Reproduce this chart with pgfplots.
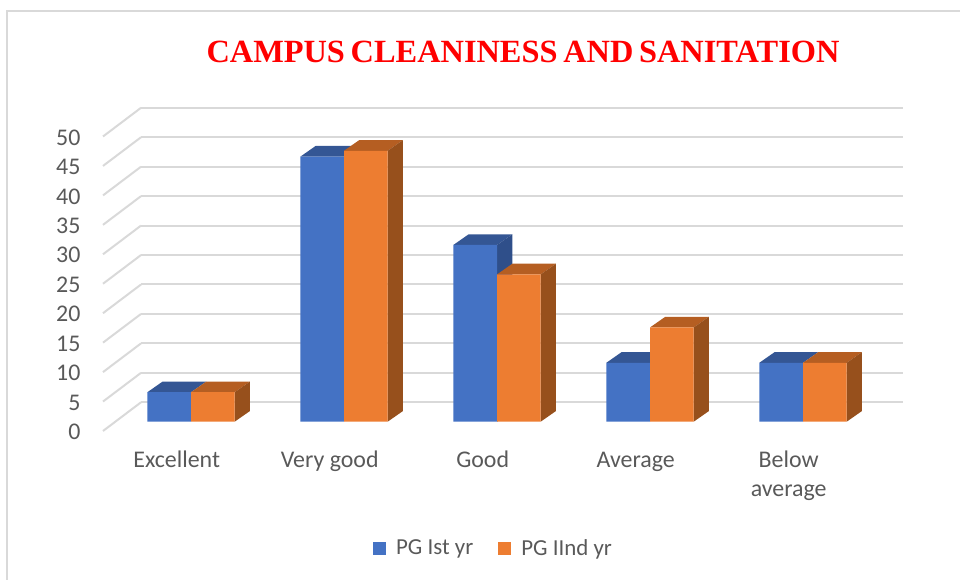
\documentclass[border=0pt]{standalone}
\usepackage{pgfplots}
\pgfplotsset{compat=1.18}
\usepackage{fontspec}
\setmainfont{Carlito}
\newfontfamily\titlefont{Liberation Serif}
\definecolor{gridc}{HTML}{D9D9D9}
\definecolor{txt}{HTML}{595959}
\definecolor{bfront}{HTML}{4472C4}
\definecolor{btop}{HTML}{345694}
\definecolor{bside}{HTML}{2F4F8A}
\definecolor{ofront}{HTML}{ED7D31}
\definecolor{otop}{HTML}{B55E22}
\definecolor{oside}{HTML}{97501C}
% one unit of x is 153 px, one unit of y is 5.89 px
% bar depth: 15.3 px -> 0.1 x units; 10.7 px -> 1.817 y units
% bar plane in front of the axis plane shifted by 12.3 px, 9.3 px
\begin{document}
\begin{tikzpicture}[x=1bp,y=1bp]
\path[use as bounding box] (-103,-149) rectangle (857,431);
\draw[gridc,line width=2bp] (-96.3,-149) -- (-96.3,420.3) -- (857,420.3);
\begin{axis}[
  at={(0,0)},anchor=south west,
  scale only axis,width=762bp,height=294.5bp,
  xmin=-0.4948,xmax=4.4856,ymin=0,ymax=50,
  clip=false,
  axis line style={draw=none},
  tick style={draw=none},
  xtick={0,1,2,3,4},
  xticklabels={Excellent\strut,Very good\strut,Good\strut,Average\strut,{Below\strut\\average\strut}},
  ytick={0,5,...,50},
  ymajorgrids,
  grid style={gridc,line width=2bp},
  major grid style={gridc,line width=2bp,xshift=38bp,yshift=28.7bp},
  tick label style={font=\fontsize{24}{29}\selectfont,text=txt},
  xticklabel style={align=center,yshift=-13bp,xshift=-2bp},
  yticklabel style={/pgf/number format/assume math mode=true,xshift=-19bp,yshift=-1bp},
  legend style={at={(0.5125,-0.398)},anchor=center,draw=none,fill=none,legend columns=2,
    font=\fontsize{23}{26}\selectfont\color{txt},
    /tikz/every odd column/.style={column sep=8bp},
    /tikz/every even column/.style={column sep=23bp}},
  legend image code/.code={\fill[#1] (0bp,-16bp) rectangle (13bp,-3bp);},
]
% left wall, one diagonal for each gridline
\addplot[forget plot,gridc,line width=2bp,unbounded coords=jump] coordinates {
(-0.4948,0)(-0.2464,4.873)(nan,nan)
(-0.4948,5)(-0.2464,9.873)(nan,nan)
(-0.4948,10)(-0.2464,14.873)(nan,nan)
(-0.4948,15)(-0.2464,19.873)(nan,nan)
(-0.4948,20)(-0.2464,24.873)(nan,nan)
(-0.4948,25)(-0.2464,29.873)(nan,nan)
(-0.4948,30)(-0.2464,34.873)(nan,nan)
(-0.4948,35)(-0.2464,39.873)(nan,nan)
(-0.4948,40)(-0.2464,44.873)(nan,nan)
(-0.4948,45)(-0.2464,49.873)(nan,nan)
(-0.4948,50)(-0.2464,54.873)
};
\pgfplotsset{
  barplane/.style={xshift=12.3bp,yshift=9.3bp},
}
\addplot[forget plot,fill=btop,draw=none,barplane,unbounded coords=jump] coordinates {
(-0.2854,5)(0,5)(0.1,6.817)(-0.1854,6.817)(-0.2854,5)(nan,nan)
(0.7146,45)(1,45)(1.1,46.817)(0.8146,46.817)(0.7146,45)(nan,nan)
(1.7146,30)(2,30)(2.1,31.817)(1.8146,31.817)(1.7146,30)(nan,nan)
(2.7146,10)(3,10)(3.1,11.817)(2.8146,11.817)(2.7146,10)(nan,nan)
(3.7146,10)(4,10)(4.1,11.817)(3.8146,11.817)(3.7146,10)
};
\addplot[forget plot,fill=bside,draw=none,barplane,unbounded coords=jump] coordinates {
(2,0)(2.1,1.817)(2.1,31.817)(2,30)(2,0)
};
\addplot[ybar,bar width=43.67bp,bar shift=-21.83bp,fill=bfront,draw=none,barplane] coordinates {
(0,5)(1,45)(2,30)(3,10)(4,10)};
\addlegendentry{PG Ist yr}
\addplot[forget plot,fill=otop,draw=none,barplane,unbounded coords=jump] coordinates {
(0,5)(0.2854,5)(0.3854,6.817)(0.1,6.817)(0,5)(nan,nan)
(1,46)(1.2854,46)(1.3854,47.817)(1.1,47.817)(1,46)(nan,nan)
(2,25)(2.2854,25)(2.3854,26.817)(2.1,26.817)(2,25)(nan,nan)
(3,16)(3.2854,16)(3.3854,17.817)(3.1,17.817)(3,16)(nan,nan)
(4,10)(4.2854,10)(4.3854,11.817)(4.1,11.817)(4,10)
};
\addplot[forget plot,fill=oside,draw=none,barplane,unbounded coords=jump] coordinates {
(0.2854,0)(0.3854,1.817)(0.3854,6.817)(0.2854,5)(0.2854,0)(nan,nan)
(1.2854,0)(1.3854,1.817)(1.3854,47.817)(1.2854,46)(1.2854,0)(nan,nan)
(2.2854,0)(2.3854,1.817)(2.3854,26.817)(2.2854,25)(2.2854,0)(nan,nan)
(3.2854,0)(3.3854,1.817)(3.3854,17.817)(3.2854,16)(3.2854,0)(nan,nan)
(4.2854,0)(4.3854,1.817)(4.3854,11.817)(4.2854,10)(4.2854,0)
};
\addplot[ybar,bar width=43.67bp,bar shift=21.83bp,fill=ofront,draw=none,barplane] coordinates {
(0,5)(1,46)(2,25)(3,16)(4,10)};
\addlegendentry{PG IInd yr}
\end{axis}
\node[font=\titlefont\bfseries\fontsize{32.5}{35}\selectfont,text=red,inner sep=0pt,anchor=center] at (420,379) {\spaceskip=5.7bp CAMPUS CLEANINESS AND SANITATION};
\end{tikzpicture}
\end{document}
